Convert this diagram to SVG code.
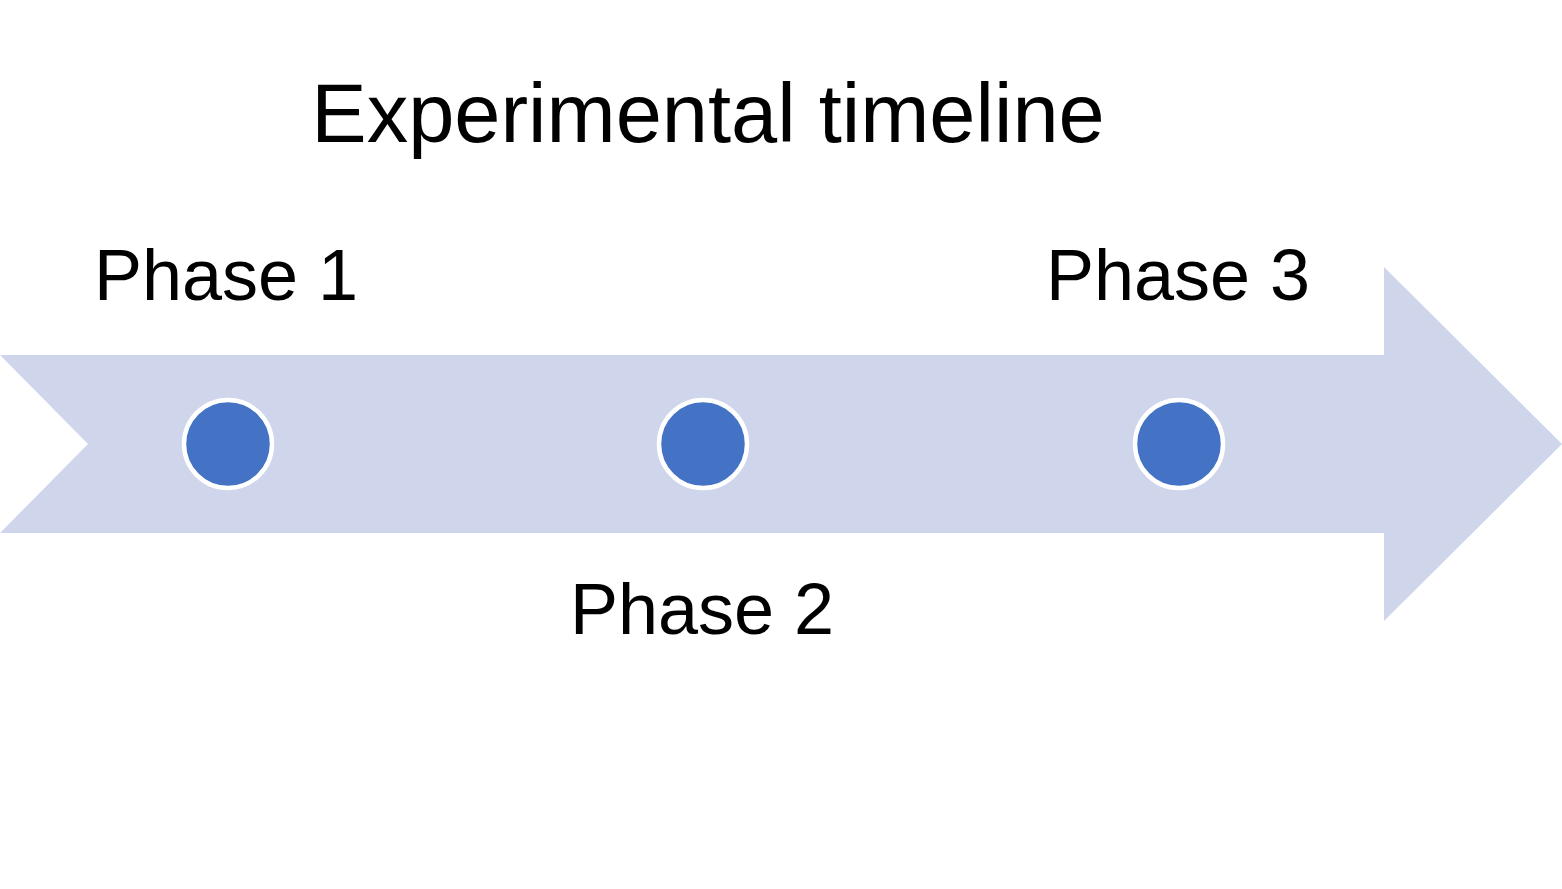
<svg xmlns="http://www.w3.org/2000/svg" width="1562" height="889" viewBox="0 0 1562 889">
<style>
text{font-family:"Liberation Sans",Arial,sans-serif;fill:#000;text-anchor:middle}
.title{font-size:83px}
.lbl{font-size:72px}
.dot{fill:#4472C4;stroke:#fff;stroke-width:4.5}
</style>
<rect width="1562" height="889" fill="#fff"/>
<g id="connectors">
<polygon id="timeline-arrow" points="0,355 1384,355 1384,267 1562,444 1384,621 1384,533 0,533 88,444" fill="#CFD5EA"/>
</g>
<g id="title"><text class="title" x="708" y="142">Experimental timeline</text></g>
<g id="phase1"><circle class="dot" cx="228" cy="444" r="44"/><text class="lbl" x="226" y="300">Phase 1</text></g>
<g id="phase2"><circle class="dot" cx="703" cy="444" r="44"/><text class="lbl" x="702" y="634">Phase 2</text></g>
<g id="phase3"><circle class="dot" cx="1179" cy="444" r="44"/><text class="lbl" x="1178" y="300">Phase 3</text></g>
</svg>
